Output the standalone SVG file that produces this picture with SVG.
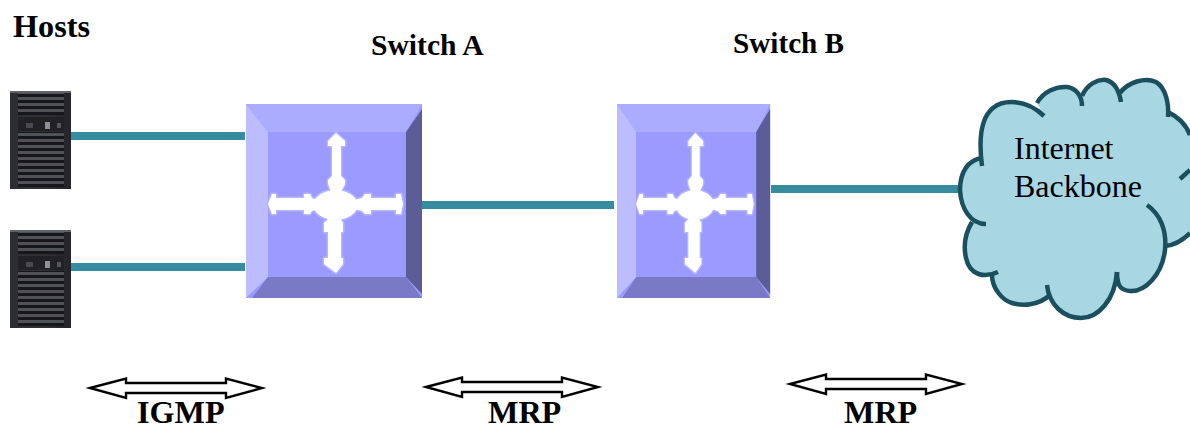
<svg xmlns="http://www.w3.org/2000/svg" xmlns:xlink="http://www.w3.org/1999/xlink" width="1190" height="428" viewBox="0 0 1190 428">
<style>
.t{font-family:"Liberation Serif","Times New Roman",serif;fill:#000}
.b{font-weight:bold;font-size:32.2px}
.link{stroke:#368b9f;stroke-width:8;fill:none}
.da{fill:#fff;stroke:#000;stroke-width:2.4}
.c{fill:none;stroke:#1b4f5e;stroke-width:4.5;stroke-linecap:butt}
</style>
<defs>
<filter id="soft" x="-5%" y="-5%" width="110%" height="110%"><feGaussianBlur stdDeviation="0.6"/></filter>
<linearGradient id="srv" x1="0" x2="1" y1="0" y2="0"><stop offset="0" stop-color="#2c2e32"/><stop offset="0.5" stop-color="#303236"/><stop offset="1" stop-color="#24262a"/></linearGradient>
<pattern id="sl" width="46" height="6" patternUnits="userSpaceOnUse"><rect width="46" height="3" fill="#505358"/><rect y="3" width="46" height="3" fill="#15171a"/></pattern>
<g id="server" filter="url(#soft)">
<rect width="61" height="98" fill="url(#srv)"/>
<rect width="61" height="2" fill="#606367"/>
<rect x="8" y="2" width="46" height="22" fill="url(#sl)"/>
<rect x="8" y="26" width="46" height="14" fill="#222428"/>
<rect x="35" y="31" width="5" height="7" fill="#8d9094"/>
<rect x="16" y="32" width="7" height="5" fill="#484a4e"/>
<rect x="47" y="32" width="4" height="5" fill="#55575b"/>
<rect x="8" y="41" width="46" height="55" fill="url(#sl)"/>
</g>
<g id="cross">
<ellipse cx="89.5" cy="101" rx="22" ry="15"/>
<polygon points="90,29 99,37 99,42 95,42 95,72 99,76 99,80 94,90 86,90 82,80 82,76 86,72 86,42 82,42 82,37"/>
<polygon points="90,169 97,160 97,154 95,154 95,128 97,128 97,119 93,112 85,112 78,119 78,128 82,128 82,154 78,154 78,160"/>
<polygon points="22,100 26,90 30,90 30,94 58,94 58,90 64,90 66,94 72,96 72,105 66,107 64,110 58,110 58,106 30,106 30,110 26,110"/>
<polygon points="157,100 155,90 150,90 150,94 125,94 125,90 119,90 116,94 108,96 108,105 116,107 119,110 125,110 125,106 150,106 150,110 155,110"/>
</g>
<g id="sw">
<rect width="176" height="194" fill="#9a9aff"/>
<polygon points="0,0 176,0 160,28 22,28" fill="#acacff"/>
<polygon points="0,0 22,28 22,173 0,194" fill="#bcbcff"/>
<polygon points="176,5 176,190 160,173 160,28" fill="#5c5c97"/>
<polygon points="22,173 160,173 176,194 6,194" fill="#7979c5"/>
<g fill="#b4b4ff" stroke="#b4b4ff" stroke-width="3" stroke-linejoin="round"><use xlink:href="#cross"/></g>
<use xlink:href="#cross" fill="#fff" filter="url(#soft)"/>
</g>
<polygon id="da" points="2,0 38,-9.5 38,-5 138,-5 138,-9.5 174,0 138,10 138,5 38,5 38,10"/>
</defs>

<g id="connectors">
<line class="link" x1="71" y1="136" x2="245" y2="136"/>
<line class="link" x1="71" y1="267" x2="245" y2="267"/>
<line class="link" x1="422" y1="205" x2="614" y2="205"/>
<line class="link" x1="771" y1="189" x2="964" y2="189"/>
</g>

<g id="host1"><use xlink:href="#server" x="10" y="91"/></g>
<g id="host2"><use xlink:href="#server" x="10" y="230"/></g>
<g id="switchA"><use xlink:href="#sw" transform="translate(246,104)"/></g>
<g id="switchB"><use xlink:href="#sw" transform="translate(617,104) scale(0.87,1)"/></g>

<g id="cloud">
<path fill="#a8d7e3" d="M982,166C978,135 983,116 993,108C1003,100 1025,98 1044,116L1037,103C1043,92 1056,86 1067,87C1076,88 1082,96 1082,106L1082,96C1087,84 1098,79 1106,80C1114,82 1119,90 1121,102L1120,93C1128,82 1145,77 1156,82C1166,88 1169,104 1168,117L1168,112C1178,117 1186,124 1190,135L1190,233C1183,240 1175,245 1165,247C1162,275 1145,292 1130,291C1122,290 1117,288 1117,272C1115,300 1098,318 1081,318C1064,318 1049,305 1047,285L1050,295C1038,306 1022,306 1012,303C1002,300 992,288 992,275L998,272C985,278 970,276 966,258C963,245 966,232 972,222L986,224C970,224 961,208 960,190C960,172 968,160 982,158Z"/>
<g class="c">
<path d="M982,166C978,135 983,116 993,108C1003,100 1025,98 1044,116"/>
<path d="M1037,103C1043,92 1056,86 1067,87C1076,88 1082,96 1082,106"/>
<path d="M1082,96C1087,84 1098,79 1106,80C1114,82 1119,90 1121,102"/>
<path d="M1120,93C1128,82 1145,77 1156,82C1166,88 1169,104 1168,117"/>
<path d="M1168,112C1178,117 1186,124 1190,135"/>
<path d="M1190,170L1180,179"/>
<path d="M1147,205C1160,214 1167,230 1165,250C1162,275 1145,292 1130,291C1122,290 1117,288 1117,272"/>
<path d="M1165,246C1175,245 1183,240 1190,233"/>
<path d="M1117,272C1115,300 1098,318 1081,318C1064,318 1049,305 1047,285"/>
<path d="M1050,295C1038,306 1022,306 1012,303C1002,300 992,288 992,275"/>
<path d="M998,272C985,278 970,276 966,258C963,245 966,232 972,222"/>
<path d="M986,224C970,224 961,208 960,190C960,172 968,160 982,158"/>
</g>
<text class="t" font-size="32" x="1014" y="159">Internet</text>
<text class="t" font-size="32" x="1014" y="197">Backbone</text>
</g>

<g id="arrows">
<use class="da" xlink:href="#da" transform="translate(88,388)"/>
<use class="da" xlink:href="#da" transform="translate(424,387)"/>
<use class="da" xlink:href="#da" transform="translate(788,384)"/>
</g>

<g id="labels">
<text class="t b" x="13" y="37">Hosts</text>
<text class="t b" x="371" y="55" style="font-size:29.6px">Switch A</text>
<text class="t b" x="733" y="53" style="font-size:29.2px">Switch B</text>
<text class="t b" x="137" y="423.3">IGMP</text>
<text class="t b" x="488" y="423.3">MRP</text>
<text class="t b" x="844" y="423.3">MRP</text>
</g>
</svg>
